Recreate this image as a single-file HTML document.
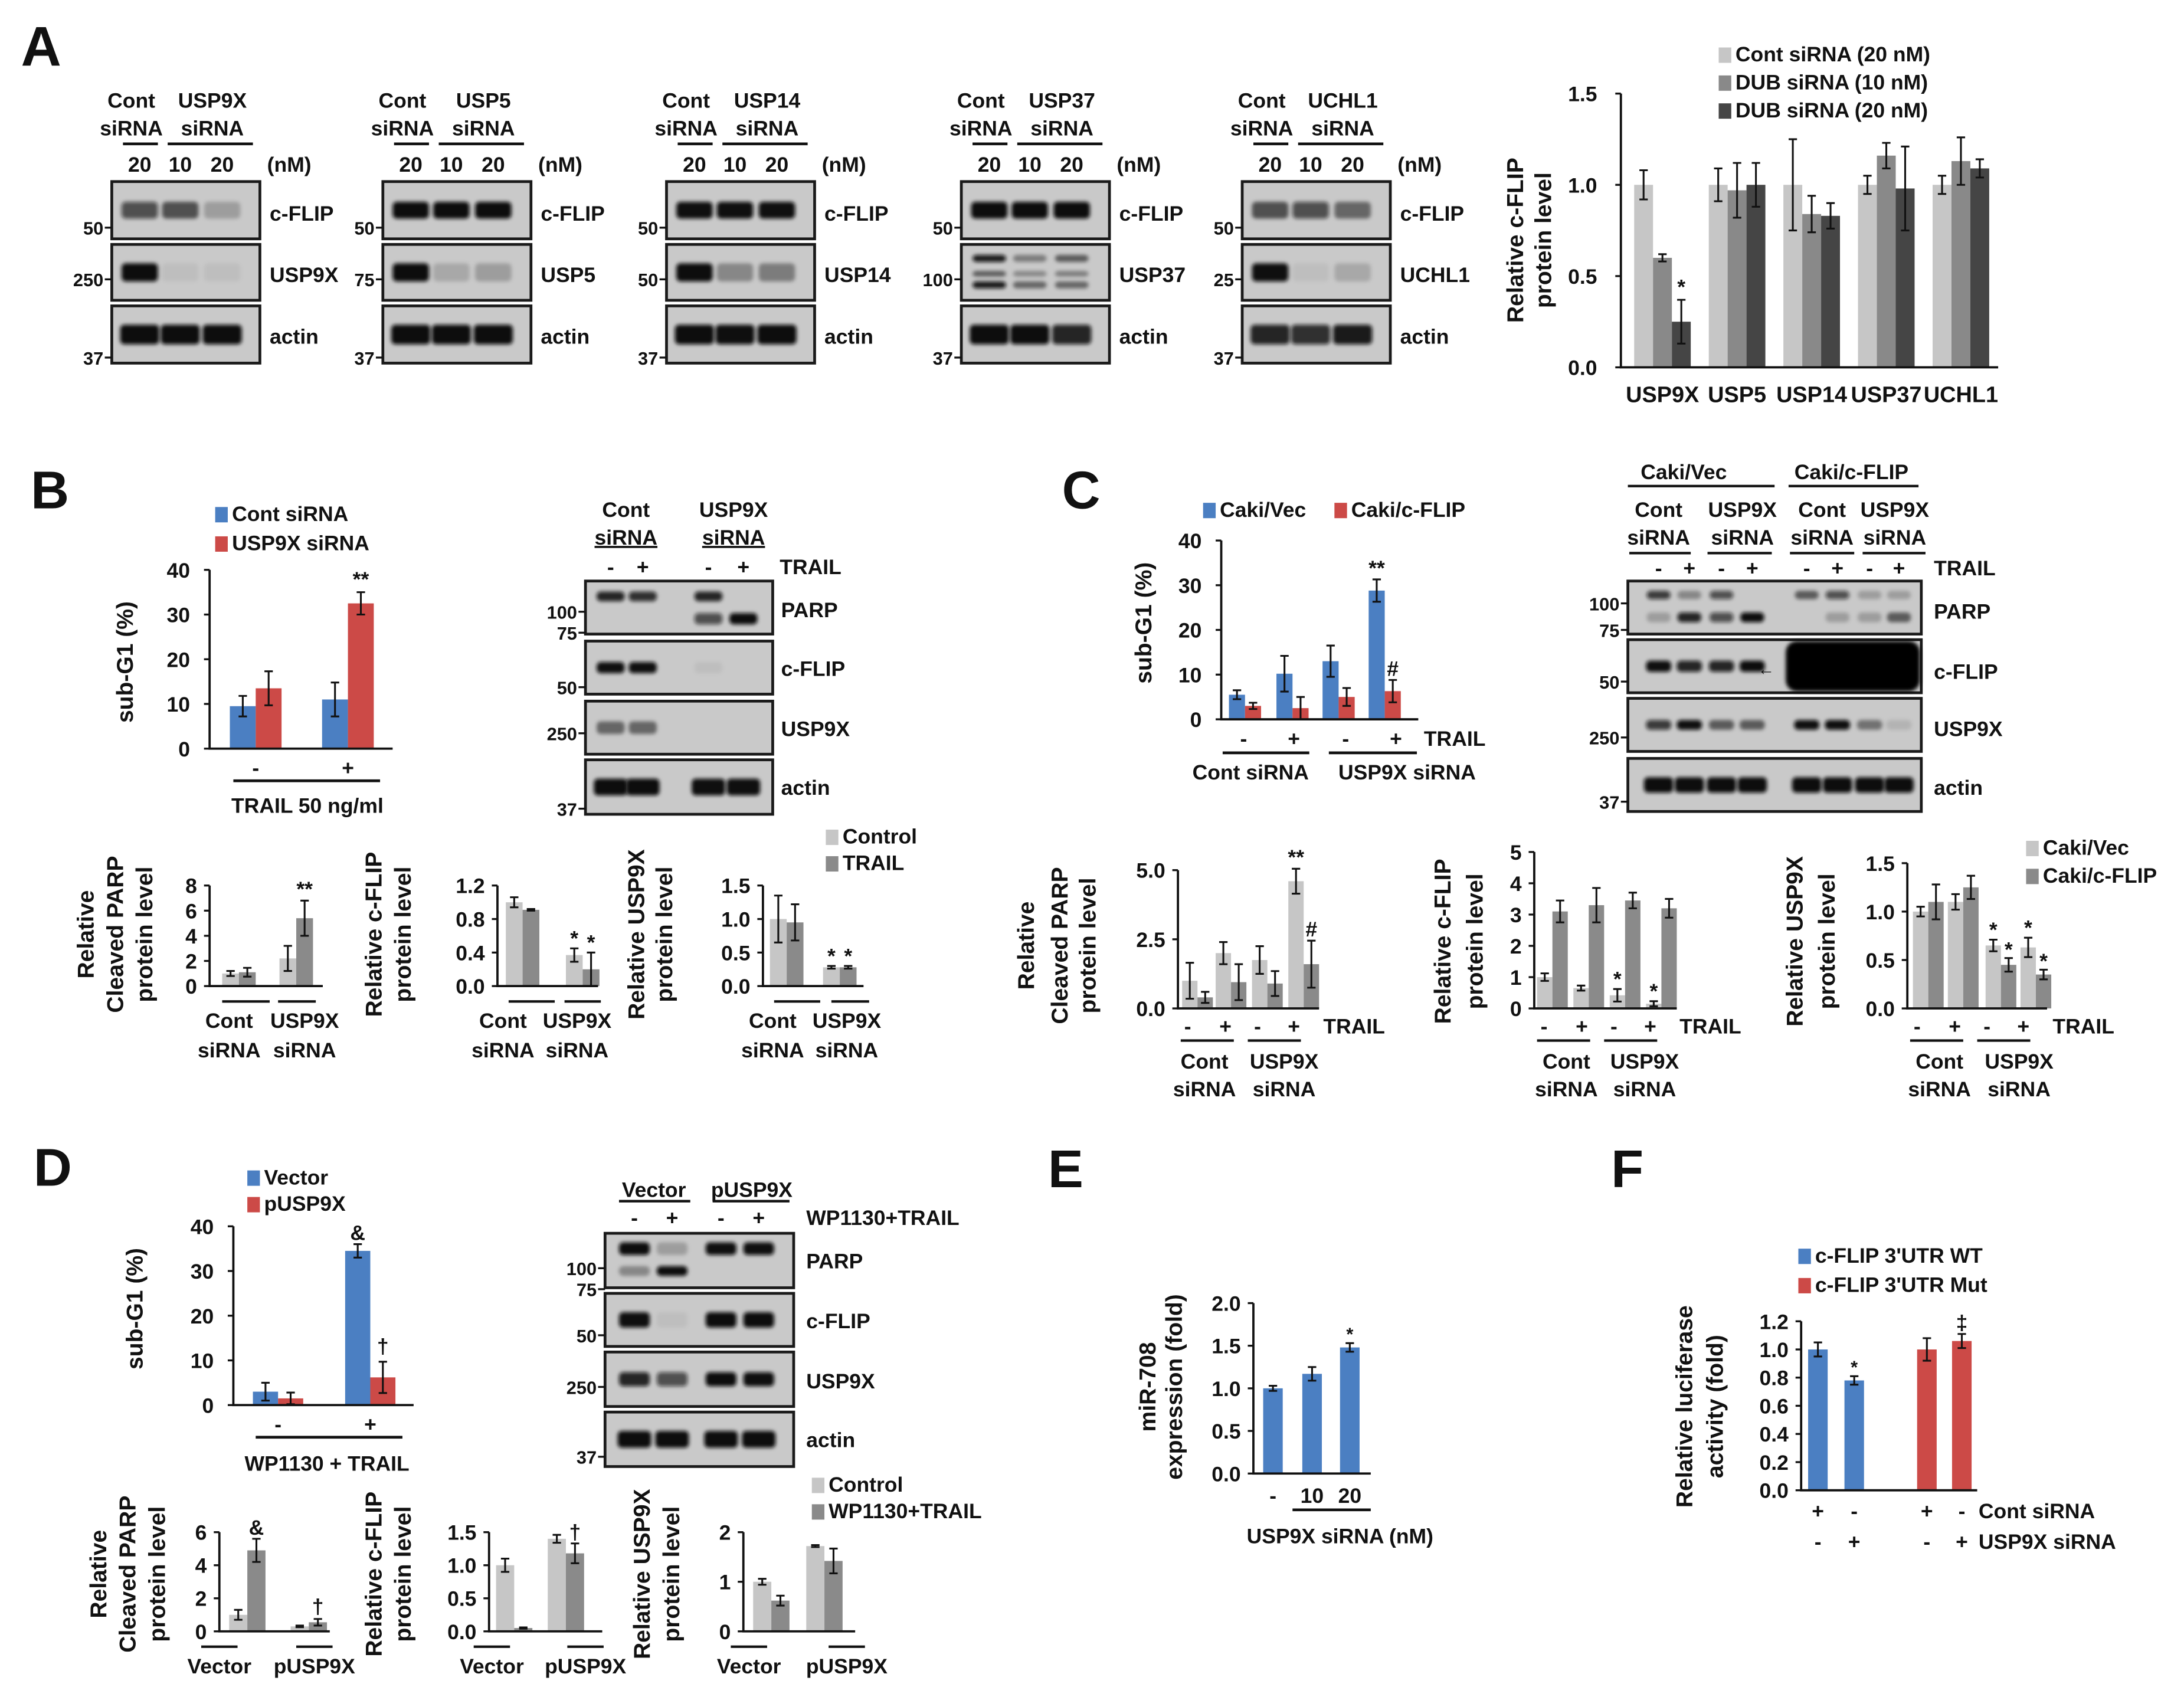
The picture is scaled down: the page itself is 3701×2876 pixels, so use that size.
<!DOCTYPE html>
<html><head><meta charset="utf-8"><style>
html,body{margin:0;padding:0;background:#fff;}
svg{display:block;}
text{font-family:"Liberation Sans",Arial,sans-serif;fill:#111;}
</style></head>
<body>
<svg id="fig" xmlns="http://www.w3.org/2000/svg" width="3701" height="2876" viewBox="0 0 1563 1215" preserveAspectRatio="none">
<defs><filter id="bl" x="-20%" y="-50%" width="140%" height="200%"><feGaussianBlur stdDeviation="1.3"/></filter></defs>
<rect x="0" y="0" width="1563" height="1215" fill="#fff"/>
</svg>
<script>
// ---- chart data ----
const aCats=['USP9X','USP5','USP14','USP37','UCHL1'];
const aCont=[1.0,1.0,1.0,1.0,1.0];
const aDub10=[0.6,0.97,0.84,1.16,1.13];
const aDub20=[0.25,1.0,0.83,0.98,1.09];
const aContErr=[0.08,0.09,0.25,0.05,0.05];
const aDub10Err=[0.02,0.15,0.1,0.07,0.13];
const aDub20Err=[0.12,0.12,0.07,0.23,0.05];
const aTicks=[0,0.5,1.0,1.5];
const aTickLabels=['0.0','0.5','1.0','1.5'];

const bSubCats=['-','+'];
const bSubCont=[9.5,11];
const bSubUsp=[13.5,32.5];
const bSubContErr=[2.3,3.8];
const bSubUspErr=[3.8,2.5];
const subTicks=[0,10,20,30,40];
const subTickLabels=['0','10','20','30','40'];

const bParpCtrl=[1.0,2.2], bParpTrail=[1.1,5.4], bParpCtrlErr=[0.2,1.0], bParpTrailErr=[0.35,1.4];
const bParpTicks=[0,2,4,6,8], bParpTickLabels=['0','2','4','6','8'];
const bFlipCtrl=[1.0,0.37], bFlipTrail=[0.91,0.2], bFlipCtrlErr=[0.06,0.08], bFlipTrailErr=[0.01,0.2];
const bFlipTicks=[0,0.4,0.8,1.2], bFlipTickLabels=['0.0','0.4','0.8','1.2'];
const bUspCtrl=[1.0,0.28], bUspTrail=[0.95,0.28], bUspCtrlErr=[0.35,0.02], bUspTrailErr=[0.27,0.02];
const ticks15=[0,0.5,1.0,1.5], ticks15Labels=['0.0','0.5','1.0','1.5'];

const cSubVec=[5.5,10.2,13,28.8], cSubVecErr=[1,4,3.5,2.5];
const cSubFlip=[3,2.5,5,6.3], cSubFlipErr=[0.7,2.5,2,2.5];
const cParpVec=[1.0,2.0,1.75,4.6], cParpVecErr=[0.65,0.4,0.5,0.45];
const cParpFlip=[0.4,0.95,0.9,1.6], cParpFlipErr=[0.2,0.65,0.45,0.85];
const cParpTicks=[0,2.5,5], cParpTickLabels=['0.0','2.5','5.0'];
const cFlipVec=[1.0,0.65,0.42,0.15], cFlipVecErr=[0.12,0.08,0.2,0.08];
const cFlipFlip=[3.1,3.3,3.45,3.2], cFlipFlipErr=[0.35,0.55,0.25,0.3];
const cFlipTicks=[0,1,2,3,4,5], cFlipTickLabels=['0','1','2','3','4','5'];
const cUspVec=[1.0,1.1,0.65,0.63], cUspVecErr=[0.05,0.08,0.06,0.1];
const cUspFlip=[1.1,1.25,0.45,0.35], cUspFlipErr=[0.18,0.12,0.07,0.05];

const dSubVec=[3,34.5], dSubVecErr=[2,1.5];
const dSubP=[1.5,6.2], dSubPErr=[1.3,3.5];
const dParpCtrl=[1.0,0.3], dParpCtrlErr=[0.3,0.05], dParpTrt=[4.9,0.55], dParpTrtErr=[0.7,0.2];
const dParpTicks=[0,2,4,6], dParpTickLabels=['0','2','4','6'];
const dFlipCtrl=[1.0,1.4], dFlipCtrlErr=[0.1,0.06], dFlipTrt=[0.05,1.18], dFlipTrtErr=[0.01,0.15];
const dUspCtrl=[1.0,1.72], dUspCtrlErr=[0.06,0.02], dUspTrt=[0.62,1.42], dUspTrtErr=[0.1,0.25];
const dUspTicks=[0,1,2], dUspTickLabels=['0','1','2'];

const eCats=['-','10','20'];
const eVals=[1.0,1.17,1.48], eErr=[0.03,0.08,0.05];
const eTicks=[0,0.5,1.0,1.5,2.0], eTickLabels=['0.0','0.5','1.0','1.5','2.0'];

const fVals=[1.0,0.78,1.0,1.06], fErr=[0.05,0.03,0.08,0.05];
const fTicks=[0,0.2,0.4,0.6,0.8,1.0,1.2], fTickLabels=['0.0','0.2','0.4','0.6','0.8','1.0','1.2'];

// ---- helpers ----
const NS='http://www.w3.org/2000/svg';
const svg=document.getElementById('fig');
const YT=16.5;
function mk(tag,a,parent){const e=document.createElementNS(NS,tag);for(const k in a)e.setAttribute(k,a[k]);(parent||svg).appendChild(e);return e;}
function T(x,y,s,o){o=o||{};
  const e=mk('text',{x:x,y:y,'font-size':o.fs||(o.rot?YT:15),'text-anchor':o.a||'middle','font-weight':'bold'},o.p);
  if(o.rot)e.setAttribute('transform','rotate(-90 '+x+' '+y+')');
  if(o.ul)e.setAttribute('text-decoration','underline');
  e.textContent=s;
  
  
  return e;}
function L(x1,y1,x2,y2,w,p){const e=mk('line',{x1:x1,y1:y1,x2:x2,y2:y2,stroke:'#111','stroke-width':w||1.5},p);
  
  
  return e;}
function sq(x,y,col,label,name){const r=mk('rect',{x:x,y:y-10,width:9,height:11,fill:col});
  
  
  T(x+12,y,label,{a:'start',n:name});}

function chart(name,c){
  const g=mk('g',{});
  
  
  const ys=v=>c.y0-v/c.max*(c.y0-c.yt);
  const n=c.series.length;
  c.series.forEach((vals,s)=>{vals.forEach((v,i)=>{
    const x=c.centers[i]+(s-n/2)*c.bw;
    const col=c.barColors?c.barColors[i]:c.colors[s];
    const r=mk('rect',{x:x,y:ys(v),width:c.bw,height:Math.max(0,c.y0-ys(v)),fill:col},g);
    
    
    const e=c.errs[s][i];
    if(e){const cx=x+c.bw/2, t=ys(v+e), b=ys(Math.max(0,v-e));
      const p=mk('path',{d:'M'+cx+' '+t+'V'+b+'M'+(cx-3)+' '+t+'H'+(cx+3)+'M'+(cx-3)+' '+b+'H'+(cx+3),stroke:'#111','stroke-width':1.3,fill:'none'},g);
      
      }
  });});
  const ax=mk('path',{d:'M'+c.ax+' '+c.yt+'V'+c.y0+'H'+c.xe,stroke:'#111','stroke-width':1.6,fill:'none'},g);
  
  
  c.ticks.forEach((t,i)=>{const y=ys(t);
    const tk=mk('line',{x1:c.ax-4,y1:y,x2:c.ax,y2:y,stroke:'#111','stroke-width':1.4},g);
    
    
    T(c.ax-(c.tg||9),y+5.5,c.tickLabels[i],{a:'end',p:g,n:name+'-tick-label',fs:c.tfs||15});});
  (c.annot||[]).forEach(a=>{const s=a[0],i=a[1];const v=c.series[s][i]+(c.errs[s][i]||0);
    const x=c.centers[i]+(s-n/2)*c.bw+c.bw/2+(a[3]||0);
    T(x,ys(v)-(a[4]||3),a[2],{p:g,n:name+'-significance',fs:a[5]||15});});
  return ys;}

function blot(name,x,y,w,h,lanes,ints,o){o=o||{};
  const g=mk('g',{});
  
  
  const r=mk('rect',{x:x,y:y,width:w,height:h,fill:'#c9c9c9',stroke:'#1a1a1a','stroke-width':2},g);
  
  
  const bands=o.bands||[{dy:h/2,ints:ints,bh:(o.bh||9)+2}];
  bands.forEach(b=>{b.ints.forEach((v,i)=>{if(v<=0.02)return;
    const bw=o.bw||22;
    const e=mk('rect',{x:x+lanes[i]-bw/2,y:y+b.dy-b.bh/2,width:bw,height:b.bh,rx:3,fill:'#0a0a0a','fill-opacity':Math.min(1,v*1.1),filter:'url(#bl)'},g);
    
    });});
  return g;}
function marker(xr,y,s){L(xr-5,y,xr,y,1.4);T(xr-6,y+5,s,{a:'end',fs:13,n:'mw-marker'});}

// ================= PANEL A =================
T(15,47,'A',{a:'start',fs:40,n:'panel-label-a'});
const aBlots=[
 {x:80,t1:'USP9X',prot:'USP9X',r1:[0.6,0.55,0.2],r2:[0.95,0.05,0.05],r3:[1,1,1],m2:'250'},
 {x:274,t1:'USP5',prot:'USP5',r1:[0.95,0.95,0.95],r2:[1,0.15,0.2],r3:[1,1,1],m2:'75'},
 {x:477,t1:'USP14',prot:'USP14',r1:[0.9,0.9,0.9],r2:[1,0.3,0.35],r3:[0.95,0.9,0.95],m2:'50'},
 {x:688,t1:'USP37',prot:'USP37',r1:[1,1,1],r2:[0.8,0.4,0.5],r3:[1,0.95,0.8],m2:'100'},
 {x:889,t1:'UCHL1',prot:'UCHL1',r1:[0.55,0.6,0.45],r2:[0.9,0.05,0.15],r3:[0.8,0.75,0.85],m2:'25'}];
const aLanes=[20,49,79];
aBlots.forEach((b,k)=>{
  T(b.x+14,77,'Cont',{n:'lane-header'});T(b.x+14,97,'siRNA',{n:'lane-header'});
  T(b.x+72,77,b.t1,{n:'lane-header'});T(b.x+72,97,'siRNA',{n:'lane-header'});
  L(b.x+8,103,b.x+33,103,2);L(b.x+40,103,b.x+101,103,2);
  T(b.x+20,123,'20',{n:'dose-label'});T(b.x+49,123,'10',{n:'dose-label'});T(b.x+79,123,'20',{n:'dose-label'});
  T(b.x+127,123,'(nM)',{n:'dose-unit'});
  blot('blot-a'+k+'-cflip',b.x,130,106,41,aLanes,b.r1,{bw:26,bh:10});
  if(b.prot==='USP37'){
    blot('blot-a'+k+'-'+b.prot.toLowerCase(),b.x,175,106,40,aLanes,null,{bw:24,bands:[{dy:10,ints:[0.85,0.35,0.5],bh:5},{dy:21,ints:[0.5,0.3,0.35],bh:4},{dy:29,ints:[0.85,0.45,0.45],bh:5}]});
  } else blot('blot-a'+k+'-'+b.prot.toLowerCase(),b.x,175,106,40,aLanes,b.r2,{bw:26,bh:11});
  blot('blot-a'+k+'-actin',b.x,219,106,41,aLanes,b.r3,{bw:28,bh:12});
  T(b.x+113,158,'c-FLIP',{a:'start',n:'protein-label'});
  T(b.x+113,202,b.prot,{a:'start',n:'protein-label'});
  T(b.x+113,246,'actin',{a:'start',n:'protein-label'});
  marker(b.x,163,'50');marker(b.x,200,b.m2);marker(b.x,256,'37');
});
const aCenters=aCats.map((c,i)=>1189.75+i*53.4);
chart('chart-a-cflip',{ax:1160,y0:263,yt:67,max:1.5,ticks:aTicks,tickLabels:aTickLabels,centers:aCenters,
  series:[aCont,aDub10,aDub20],errs:[aContErr,aDub10Err,aDub20Err],colors:['#c6c6c6','#898989','#454545'],bw:13.5,xe:1430,tg:17,
  annot:[[2,0,'*',0,4]]});
aCats.forEach((c,i)=>T(aCenters[i],288,c,{fs:16,n:'x-category-label'}));
T(1090,172,'Relative c-FLIP',{rot:1,n:'y-axis-title'});T(1110,172,'protein level',{rot:1,n:'y-axis-title'});
sq(1230,44,'#c6c6c6','Cont siRNA (20 nM)','legend-cont');
sq(1230,64,'#898989','DUB siRNA (10 nM)','legend-dub10');
sq(1230,84,'#454545','DUB siRNA (20 nM)','legend-dub20');

// ================= PANEL B =================
const BLUE='#4b7fc2',RED='#cc4a47',LG='#c6c6c6',DG='#8a8a8a';
T(22,364,'B',{a:'start',fs:38,n:'panel-label-b'});
sq(154,373,BLUE,'Cont siRNA','legend-cont-sirna');
sq(154,394,RED,'USP9X siRNA','legend-usp9x-sirna');
chart('chart-b-subg1',{ax:150,y0:536,yt:408,max:40,ticks:subTicks,tickLabels:subTickLabels,centers:[183,249],
  series:[bSubCont,bSubUsp],errs:[bSubContErr,bSubUspErr],colors:[BLUE,RED],bw:18.5,xe:281,tg:14,annot:[[1,1,'**',0,4]]});
T(183,555,'-');T(249,555,'+');L(167,559,272,559,2);
T(220,582,'TRAIL  50 ng/ml',{n:'x-axis-title'});
T(95,474,'sub-G1 (%)',{rot:1,n:'y-axis-title'});
T(448,370,'Cont',{n:'lane-header'});T(448,390,'siRNA',{ul:1,n:'lane-header'});
T(525,370,'USP9X',{n:'lane-header'});T(525,390,'siRNA',{ul:1,n:'lane-header'});
const bL=[18,41,88,113];
[0,1,2,3].forEach(i=>T(419+bL[i],411,i%2?'+':'-',{n:'treatment-sign'}));
T(558,411,'TRAIL',{a:'start',n:'treatment-label'});
blot('blot-b-parp',419,416,134,38,bL,null,{bw:20,bands:[{dy:11,ints:[0.8,0.75,0.8,0],bh:7},{dy:27,ints:[0,0,0.6,1],bh:8}]});
blot('blot-b-cflip',419,459,134,38,bL,[0.9,0.9,0.05,0],{bw:20,bh:6});
blot('blot-b-usp9x',419,502,134,38,bL,[0.45,0.45,0,0],{bw:20,bh:7});
blot('blot-b-actin',419,544,134,39,bL,[1,1,0.9,0.9],{bw:24,bh:10});
T(559,442,'PARP',{a:'start',n:'protein-label'});T(559,484,'c-FLIP',{a:'start',n:'protein-label'});
T(559,527,'USP9X',{a:'start',n:'protein-label'});T(559,569,'actin',{a:'start',n:'protein-label'});
marker(419,438,'100');marker(419,453,'75');marker(419,492,'50');marker(419,525,'250');marker(419,579,'37');
chart('chart-b-parp',{ax:150,y0:706,yt:634,max:8,ticks:bParpTicks,tickLabels:bParpTickLabels,centers:[171,212],
  series:[bParpCtrl,bParpTrail],errs:[bParpCtrlErr,bParpTrailErr],colors:[LG,DG],bw:12,xe:231,annot:[[1,1,'**',0,3]]});
chart('chart-b-cflip',{ax:356,y0:706,yt:634,max:1.2,ticks:bFlipTicks,tickLabels:bFlipTickLabels,centers:[374,417],
  series:[bFlipCtrl,bFlipTrail],errs:[bFlipCtrlErr,bFlipTrailErr],colors:[LG,DG],bw:12,xe:428,annot:[[0,1,'*',0,2],[1,1,'*',0,2]]});
chart('chart-b-usp9x',{ax:546,y0:706,yt:634,max:1.5,ticks:ticks15,tickLabels:ticks15Labels,centers:[563,601],
  series:[bUspCtrl,bUspTrail],errs:[bUspCtrlErr,bUspTrailErr],colors:[LG,DG],bw:12,xe:618,annot:[[0,1,'*',0,2],[1,1,'*',0,2]]});
[[157,193,199,229,164,218],[362,397,404,433,360,413],[552,587,595,625,553,606]].forEach(a=>{
  L(a[0]+2,717,a[1],717,1.8);L(a[2],717,a[3]-3,717,1.8);
  T(a[4],736,'Cont',{n:'group-label'});T(a[5],736,'USP9X',{n:'group-label'});
  T(a[4],757,'siRNA',{n:'group-label'});T(a[5],757,'siRNA',{n:'group-label'});});
T(67,669,'Relative',{rot:1,n:'y-axis-title'});T(88,669,'Cleaved PARP',{rot:1,n:'y-axis-title'});T(109,669,'protein level',{rot:1,n:'y-axis-title'});
T(273,669,'Relative c-FLIP',{rot:1,n:'y-axis-title'});T(294,669,'protein level',{rot:1,n:'y-axis-title'});
T(461,669,'Relative USP9X',{rot:1,n:'y-axis-title'});T(481,669,'protein level',{rot:1,n:'y-axis-title'});
sq(591,604,LG,'Control','legend-control');sq(591,623,DG,'TRAIL','legend-trail');

// ================= PANEL C =================
T(760,364,'C',{a:'start',fs:38,n:'panel-label-c'});
sq(861,370,BLUE,'Caki/Vec','legend-caki-vec');sq(955,370,RED,'Caki/c-FLIP','legend-caki-cflip');
chart('chart-c-subg1',{ax:874,y0:515,yt:387,max:40,ticks:subTicks,tickLabels:subTickLabels,centers:[891,925,958,991],
  series:[cSubVec,cSubFlip],errs:[cSubVecErr,cSubFlipErr],colors:[BLUE,RED],bw:11.5,xe:1015,tg:14,annot:[[0,3,'**',0,3],[1,3,'#',0,3]]});
['-','+','-','+'].forEach((s,i)=>T([890,926,963,999][i],534,s,{n:'treatment-sign'}));
T(1019,534,'TRAIL',{a:'start',n:'treatment-label'});
L(875,539,937,539,2);L(951,539,1014,539,2);
T(895,558,'Cont siRNA',{n:'group-label'});T(1007,558,'USP9X siRNA',{n:'group-label'});
T(824,446,'sub-G1 (%)',{rot:1,n:'y-axis-title'});
T(1205,343,'Caki/Vec',{n:'cell-line-header'});T(1325,343,'Caki/c-FLIP',{n:'cell-line-header'});
L(1165,348,1270,348,1.8);L(1280,348,1373,348,1.8);
[[1187,'Cont'],[1247,'USP9X'],[1304,'Cont'],[1356,'USP9X']].forEach(a=>{T(a[0],370,a[1],{n:'lane-header'});T(a[0],390,'siRNA',{n:'lane-header'});});
L(1166,396,1210,396,1.8);L(1222,396,1268,396,1.8);L(1281,396,1327,396,1.8);L(1333,396,1378,396,1.8);
const cL=[22,44,67,89,128,150,173,194];
cL.forEach((v,i)=>T(1165+v,412,i%2?'+':'-',{n:'treatment-sign'}));
T(1384,412,'TRAIL',{a:'start',n:'treatment-label'});
blot('blot-c-parp',1165,416,210,38,cL,null,{bw:17,bands:[{dy:10,ints:[0.7,0.3,0.6,0,0.5,0.6,0.2,0.2],bh:6},{dy:26,ints:[0.2,0.8,0.6,1,0,0.2,0.2,0.5],bh:7}]});
const cf=blot('blot-c-cflip',1165,458,210,38,cL,[0.9,0.8,0.8,0.95,0,0,0,0],{bw:18,bh:6});
const blob=mk('rect',{x:1278,y:459,width:96,height:36,rx:8,fill:'#050505',filter:'url(#bl)'},cf);


T(1264,483,'←',{fs:12,n:'arrow-indicator'});
blot('blot-c-usp9x',1165,500,210,38,cL,[0.7,0.9,0.5,0.5,0.9,0.9,0.4,0.1],{bw:18,bh:5});
blot('blot-c-actin',1165,543,210,38,cL,[1,1,1,1,1,1,1,1],{bw:21,bh:9});
T(1384,443,'PARP',{a:'start',n:'protein-label'});T(1384,486,'c-FLIP',{a:'start',n:'protein-label'});
T(1384,527,'USP9X',{a:'start',n:'protein-label'});T(1384,569,'actin',{a:'start',n:'protein-label'});
marker(1165,432,'100');marker(1165,451,'75');marker(1165,488,'50');marker(1165,528,'250');marker(1165,574,'37');
chart('chart-c-parp',{ax:843,y0:722,yt:623,max:5,ticks:cParpTicks,tickLabels:cParpTickLabels,centers:[857,881,907,933],
  series:[cParpVec,cParpFlip],errs:[cParpVecErr,cParpFlipErr],colors:[LG,DG],bw:11,xe:944,annot:[[0,3,'**',0,3],[1,3,'#',0,3]]});
chart('chart-c-cflip',{ax:1098,y0:722,yt:610,max:5,ticks:cFlipTicks,tickLabels:cFlipTickLabels,centers:[1111,1137,1163,1189],
  series:[cFlipVec,cFlipFlip],errs:[cFlipVecErr,cFlipFlipErr],colors:[LG,DG],bw:11,xe:1200,annot:[[0,2,'*',0,2],[0,3,'*',0,2]]});
chart('chart-c-usp9x',{ax:1365,y0:722,yt:618,max:1.5,ticks:ticks15,tickLabels:ticks15Labels,centers:[1380,1405,1432,1457],
  series:[cUspVec,cUspFlip],errs:[cUspVecErr,cUspFlipErr],colors:[LG,DG],bw:11,xe:1465,annot:[[0,2,'*',0,2],[1,2,'*',0,1],[0,3,'*',0,2],[1,3,'*',0,1]]});
[[843,862,919],[1098,1121,1177],[1365,1388,1445]].forEach(a=>{const ax=a[0];
  [7,34,57,83].forEach((o,i)=>T(ax+o,740,i%2?'+':'-',{n:'treatment-sign'}));
  T(ax+104,740,'TRAIL',{a:'start',n:'treatment-label'});
  L(ax+2,745,ax+40,745,1.8);L(ax+50,745,ax+88,745,1.8);
  T(a[1],765,'Cont',{n:'group-label'});T(a[2],765,'USP9X',{n:'group-label'});
  T(a[1],785,'siRNA',{n:'group-label'});T(a[2],785,'siRNA',{n:'group-label'});});
T(740,677,'Relative',{rot:1,n:'y-axis-title'});T(764,677,'Cleaved PARP',{rot:1,n:'y-axis-title'});T(784,677,'protein level',{rot:1,n:'y-axis-title'});
T(1038,674,'Relative c-FLIP',{rot:1,n:'y-axis-title'});T(1061,674,'protein level',{rot:1,n:'y-axis-title'});
T(1290,674,'Relative USP9X',{rot:1,n:'y-axis-title'});T(1313,674,'protein level',{rot:1,n:'y-axis-title'});
sq(1450,612,LG,'Caki/Vec','legend-caki-vec-gray');sq(1450,632,DG,'Caki/c-FLIP','legend-caki-cflip-gray');

// ================= PANEL D =================
T(24,849,'D',{a:'start',fs:38,n:'panel-label-d'});
sq(177,848,BLUE,'Vector','legend-vector');sq(177,867,RED,'pUSP9X','legend-pusp9x');
chart('chart-d-subg1',{ax:167,y0:1006,yt:878,max:40,ticks:subTicks,tickLabels:subTickLabels,centers:[199,265],
  series:[dSubVec,dSubP],errs:[dSubVecErr,dSubPErr],colors:[BLUE,RED],bw:18,xe:296,tg:14,annot:[[0,1,'&',0,3],[1,1,'†',0,6]]});
T(199,1025,'-');T(265,1025,'+');L(183,1029,288,1029,2);
T(234,1053,'WP1130 + TRAIL',{n:'x-axis-title'});
T(102,937,'sub-G1 (%)',{rot:1,n:'y-axis-title'});
T(468,857,'Vector',{n:'lane-header'});T(538,857,'pUSP9X',{n:'lane-header'});
L(443,860,494,860,1.8);L(510,860,565,860,1.8);
const dL=[21,48,83,110];
dL.forEach((v,i)=>T(433+v,877,i%2?'+':'-',{n:'treatment-sign'}));
T(577,877,'WP1130+TRAIL',{a:'start',n:'treatment-label'});
blot('blot-d-parp',433,883,135,39,dL,null,{bw:22,bands:[{dy:11,ints:[1,0.2,0.9,0.9],bh:9},{dy:27,ints:[0.3,0.95,0,0],bh:7}]});
blot('blot-d-cflip',433,926,135,38,dL,[0.9,0.05,1,1],{bw:22,bh:9});
blot('blot-d-usp9x',433,968,135,39,dL,[0.8,0.6,1,0.9],{bw:22,bh:8});
blot('blot-d-actin',433,1011,135,39,dL,[1,1,1,1],{bw:24,bh:10});
T(577,908,'PARP',{a:'start',n:'protein-label'});T(577,951,'c-FLIP',{a:'start',n:'protein-label'});
T(577,994,'USP9X',{a:'start',n:'protein-label'});T(577,1036,'actin',{a:'start',n:'protein-label'});
marker(433,908,'100');marker(433,923,'75');marker(433,956,'50');marker(433,993,'250');marker(433,1043,'37');
chart('chart-d-parp',{ax:157,y0:1168,yt:1097,max:6,ticks:dParpTicks,tickLabels:dParpTickLabels,centers:[177,221],
  series:[dParpCtrl,dParpTrt],errs:[dParpCtrlErr,dParpTrtErr],colors:[LG,DG],bw:13,xe:236,annot:[[1,0,'&',0,3],[1,1,'†',0,4]]});
chart('chart-d-cflip',{ax:350,y0:1168,yt:1097,max:1.5,ticks:ticks15,tickLabels:ticks15Labels,centers:[368,405],
  series:[dFlipCtrl,dFlipTrt],errs:[dFlipCtrlErr,dFlipTrtErr],colors:[LG,DG],bw:13,xe:431,annot:[[1,1,'†',0,3]]});
chart('chart-d-usp9x',{ax:532,y0:1168,yt:1097,max:2,ticks:dUspTicks,tickLabels:dUspTickLabels,centers:[552,590],
  series:[dUspCtrl,dUspTrt],errs:[dUspCtrlErr,dUspTrtErr],colors:[LG,DG],bw:13,xe:612});
[[157,225],[352,419],[536,606]].forEach(a=>{
  L(a[0]-13,1179,a[0]+13,1179,1.8);L(a[1]-13,1179,a[1]+13,1179,1.8);
  T(a[0],1198,'Vector',{n:'group-label'});T(a[1],1198,'pUSP9X',{n:'group-label'});});
T(76,1127,'Relative',{rot:1,n:'y-axis-title'});T(97,1127,'Cleaved PARP',{rot:1,n:'y-axis-title'});T(118,1127,'protein level',{rot:1,n:'y-axis-title'});
T(273,1127,'Relative c-FLIP',{rot:1,n:'y-axis-title'});T(294,1127,'protein level',{rot:1,n:'y-axis-title'});
T(465,1127,'Relative USP9X',{rot:1,n:'y-axis-title'});T(486,1127,'protein level',{rot:1,n:'y-axis-title'});
sq(581,1068,LG,'Control','legend-control-d');sq(581,1087,DG,'WP1130+TRAIL','legend-wp1130-trail');

// ================= PANEL E =================
T(750,850,'E',{a:'start',fs:38,n:'panel-label-e'});
const eC=[911,939,966];
chart('chart-e-mir708',{ax:897,y0:1055,yt:933,max:2,ticks:eTicks,tickLabels:eTickLabels,centers:eC,
  series:[eVals],errs:[eErr],colors:[BLUE],bw:14,xe:981,annot:[[0,2,'*',0,2,13]]});
eCats.forEach((c,i)=>T(eC[i],1076,c,{n:'x-category-label'}));
L(925,1081,981,1081,2);
T(959,1105,'USP9X siRNA (nM)',{n:'x-axis-title'});
T(827,993,'miR-708',{rot:1,n:'y-axis-title'});T(846,993,'expression (fold)',{rot:1,n:'y-axis-title'});

// ================= PANEL F =================
T(1153,850,'F',{a:'start',fs:38,n:'panel-label-f'});
sq(1287,904,BLUE,"c-FLIP 3'UTR WT",'legend-utr-wt');sq(1287,925,RED,"c-FLIP 3'UTR Mut",'legend-utr-mut');
const fC=[1301,1327,1379,1404];
chart('chart-f-luciferase',{ax:1289,y0:1067,yt:946,max:1.2,ticks:fTicks,tickLabels:fTickLabels,centers:fC,
  series:[fVals],errs:[fErr],colors:[BLUE],barColors:[BLUE,BLUE,RED,RED],bw:14,xe:1415,annot:[[0,1,'*',0,2,13],[0,3,'‡',0,3]]});
['+','-','+','-'].forEach((s,i)=>T(fC[i],1087,s,{n:'cont-sirna-sign'}));
['-','+','-','+'].forEach((s,i)=>T(fC[i],1109,s,{n:'usp9x-sirna-sign'}));
T(1416,1087,'Cont siRNA',{a:'start',n:'row-label'});T(1416,1109,'USP9X siRNA',{a:'start',n:'row-label'});
T(1211,1007,'Relative luciferase',{rot:1,n:'y-axis-title'});T(1233,1007,'activity (fold)',{rot:1,n:'y-axis-title'});
</script>
</body></html>
